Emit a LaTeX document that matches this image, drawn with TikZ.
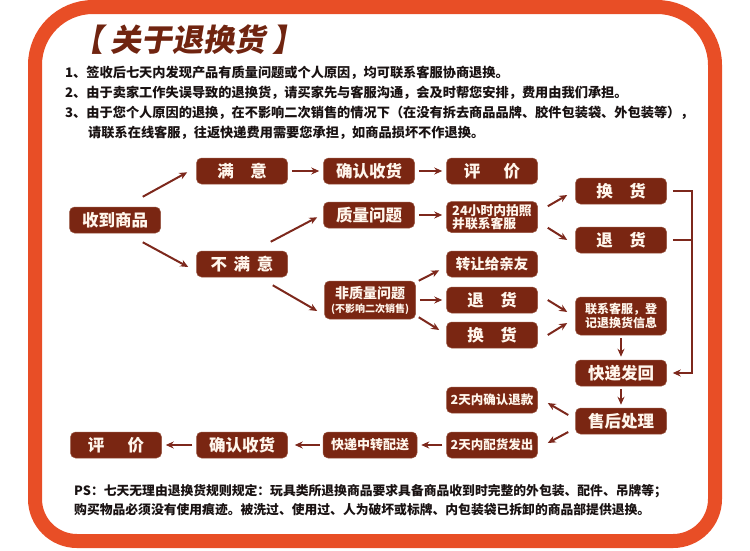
\documentclass[tikz,border=0pt]{standalone}
\usepackage{fontspec}
\setmainfont{Noto Sans CJK SC}
\newfontfamily\titlefont[FakeSlant=0.18]{Noto Sans CJK SC}
\usetikzlibrary{arrows.meta,positioning}

\definecolor{framered}{RGB}{232,78,38}
\definecolor{boxbrown}{RGB}{122,38,18}
\definecolor{boxedge}{RGB}{150,82,62}
\definecolor{linkbrown}{RGB}{125,40,28}
\definecolor{titlebrown}{RGB}{112,36,16}
\definecolor{boxtext}{RGB}{255,246,236}
\definecolor{bodyblack}{RGB}{25,18,18}

\tikzset{
  box/.style={fill=boxbrown, draw=boxedge, line width=0.5pt, rounded corners=5pt,
    text=boxtext, minimum width=91pt, minimum height=26pt, inner sep=0pt,
    align=center, font=\bfseries\fontsize{16.5}{18}\selectfont},
  link/.style={draw=linkbrown, line width=2pt, -{Stealth[length=8pt,width=7pt]}},
  gap/.style={shorten <=4pt, shorten >=4pt},
  rule/.style={anchor=west, inner sep=0pt, text=bodyblack,
    font=\bfseries\fontsize{13.2}{15}\selectfont},
}

\begin{document}
\begin{tikzpicture}[x=1pt,y=-1pt]
    \useasboundingbox (0,0) rectangle (750,550);

    % Frame
    \draw[framered, line width=14pt] (35,300) [rounded corners=58pt] -- (35,7) -- (715,7)
        -- (715,300) [rounded corners=42pt] -- (715,541) -- (35,541) -- cycle;

    % Title and rules
    \node[anchor=west, inner sep=0pt, text=titlebrown,
        font=\titlefont\bfseries\fontsize{31}{33}\selectfont] (title) at (72,40)
        {【\hspace{0.25em}关于退换货\hspace{0.2em}】};
    \node[rule] (rule1) at (65,73) {1、签收后七天内发现产品有质量问题或个人原因，均可联系客服协商退换。};
    \node[rule] (rule2) at (65,93) {2、由于卖家工作失误导致的退换货，请买家先与客服沟通，会及时帮您安排，费用由我们承担。};
    \node[rule] (rule3) at (65,113) {3、由于您个人原因的退换，在不影响二次销售的情况下（在没有拆去商品品牌、胶件包装袋、外包装等），};
    \node[rule] (rule4) at (88,133) {请联系在线客服，往返快递费用需要您承担，如商品损坏不作退换。};

    % Boxes
    \node[box] (recv) at (115,220) {收到商品};
    \node[box] (sat) at (242,171) {满\quad 意};
    \node[box] (unsat) at (242,264) {不\hspace{.4em}满\hspace{.4em}意};
    \node[box] (conf1) at (369,171) {确认收货};
    \node[box] (qual) at (369,215) {质量问题};
    \node[box] (eval1) at (492,171) {评\hspace{1.4em}价};
    \node[box, minimum height=31pt, align=left,
        font=\bfseries\fontsize{12.8}{12.5}\selectfont] (photo) at (492,217) {24小时内拍照\\并联系客服};
    \node[box] (exch1) at (621,191) {换\quad 货};
    \node[box] (ret1) at (621,240) {退\quad 货};
    \node[box, font=\bfseries\fontsize{14.5}{16}\selectfont] (gift) at (492,264) {转让给亲友};
    \node[box, minimum height=38pt, font=\bfseries\fontsize{14}{15}\selectfont] (nonq) at (370,300)
        {非质量问题\\[-1pt]{\fontsize{10}{11}\selectfont(不影响二次销售)}};
    \node[box] (ret2) at (492,300) {退\quad 货};
    \node[box] (exch2) at (492,335) {换\quad 货};
    \node[box, minimum height=38pt, font=\bfseries\fontsize{12}{14}\selectfont] (contact) at (621,316)
        {联系客服，登\\记退换货信息};
    \node[box] (back) at (621,373) {快递发回};
    \node[box] (handle) at (621,421) {售后处理};
    \node[box, font=\bfseries\fontsize{12.5}{14}\selectfont] (refund) at (492,400) {2天内确认退款};
    \node[box, font=\bfseries\fontsize{12.5}{14}\selectfont] (ship) at (492,445) {2天内配货发出};
    \node[box, minimum width=94pt, font=\bfseries\fontsize{13}{14}\selectfont] (trans) at (370,445) {快递中转配送};
    \node[box] (conf2) at (242,445) {确认收货};
    \node[box] (eval2) at (116,445) {评\hspace{1.4em}价};

    % Arrows
    \draw[link] ([xshift=-18pt,yshift=10pt]recv.north east) -- ([xshift=-9pt,yshift=12pt]sat.south west);
    \draw[link] ([xshift=-18pt,yshift=-9pt]recv.south east) -- ([xshift=-8pt,yshift=-3pt]unsat.west);
    \draw[link, gap] (sat) -- (conf1);
    \draw[link, gap] (conf1) -- (eval1);
    \draw[link] ([xshift=-17pt,yshift=9pt]unsat.north east) -- ([xshift=-6pt,yshift=11pt]qual.south west);
    \draw[link] ([xshift=-15pt,yshift=-8pt]unsat.south east) -- ([xshift=-7pt,yshift=-11pt]nonq.west);
    \draw[link, gap] (qual.east) -- (qual.east -| photo.west);
    \draw[link] ([xshift=10pt,yshift=-5pt]photo.north east) -- ([xshift=-8pt,yshift=-4pt]exch1.west);
    \draw[link] ([xshift=10pt,yshift=5pt]photo.south east) -- ([xshift=-8pt]ret1.west);
    \draw[link] ([xshift=3pt]nonq.north east) -- ([xshift=-7pt,yshift=7pt]gift.south west);
    \draw[link, gap] (nonq) -- (ret2);
    \draw[link] ([xshift=3pt,yshift=2pt]nonq.south east) -- ([xshift=-7pt,yshift=5pt]exch2.west);
    \draw[link] ([xshift=10pt]ret2.east) -- ([xshift=-8pt,yshift=4pt]contact.west);
    \draw[link] ([xshift=10pt]exch2.east) -- ([xshift=-8pt,yshift=-7pt]contact.west);
    \draw[link] ([xshift=6pt]exch1.east) -- ++(19,0) |- ([xshift=6pt]back.east);
    \draw[link, -] ([xshift=6pt]ret1.east) -- ++(19,0);
    \draw[link, shorten <=3pt, shorten >=3pt] (contact) -- (back);
    \draw[link, shorten <=3pt, shorten >=3pt] (back) -- (handle);
    \draw[link] ([xshift=-7pt,yshift=6pt]handle.west) -- ([xshift=10pt,yshift=-3pt]refund.east);
    \draw[link] ([xshift=-7pt,yshift=-11pt]handle.west) -- ([xshift=10pt,yshift=2pt]ship.east);
    \draw[link, gap] (ship) -- (trans);
    \draw[link, shorten <=3pt, shorten >=7pt] (trans) -- (conf2);
    \draw[link, gap] (conf2) -- (eval2);

    % PS
    \node[rule, font=\bfseries\fontsize{12.8}{14}\selectfont] (ps1) at (74,491)
        {PS：七天无理由退换货规则规定：玩具类所退换商品要求具备商品收到时完整的外包装、配件、吊牌等；};
    \node[rule, font=\bfseries\fontsize{12.8}{14}\selectfont] (ps2) at (74,510)
        {购买物品必须没有使用痕迹。被洗过、使用过、人为破坏或标牌、内包装袋已拆卸的商品部提供退换。};
\end{tikzpicture}
\end{document}
